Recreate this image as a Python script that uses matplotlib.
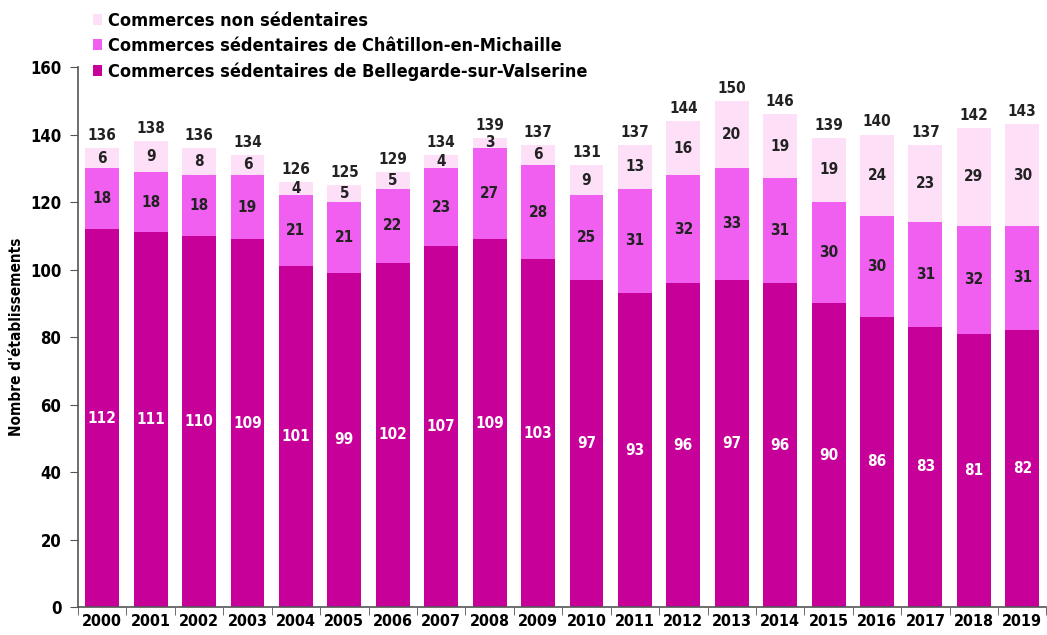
import matplotlib
matplotlib.use("Agg")
import matplotlib.pyplot as plt
import numpy as np

years = [str(y) for y in range(2000, 2020)]
bellegarde = [112, 111, 110, 109, 101, 99, 102, 107, 109, 103, 97, 93, 96, 97, 96, 90, 86, 83, 81, 82]
chatillon = [18, 18, 18, 19, 21, 21, 22, 23, 27, 28, 25, 31, 32, 33, 31, 30, 30, 31, 32, 31]
non_sed = [6, 9, 8, 6, 4, 5, 5, 4, 3, 6, 9, 13, 16, 20, 19, 19, 24, 23, 29, 30]

c_dark = "#c8009a"
c_mid = "#f05ff0"
c_light = "#fde0f8"

plt.rcParams["font.family"] = "DejaVu Sans"
plt.rcParams["font.stretch"] = "condensed"

fig = plt.figure(figsize=(10.47, 6.35), dpi=100)
ax = fig.add_axes([0.0745, 0.044, 0.925, 0.8505])

x = np.arange(len(years))
b = np.array(bellegarde)
c = np.array(chatillon)
n = np.array(non_sed)
w = 0.7

r1 = ax.bar(x, b, w, color=c_dark, label="Commerces sédentaires de Bellegarde-sur-Valserine")
r2 = ax.bar(x, c, w, bottom=b, color=c_mid, label="Commerces sédentaires de Châtillon-en-Michaille")
r3 = ax.bar(x, n, w, bottom=b + c, color=c_light, label="Commerces non sédentaires")

fs = 11
for i in range(len(x)):
    ax.text(x[i], b[i] / 2, str(b[i]), ha="center", va="center", color="white", fontsize=fs, fontweight="bold")
    ax.text(x[i], b[i] + c[i] / 2, str(c[i]), ha="center", va="center", color="#222222", fontsize=fs, fontweight="bold")
    ax.text(x[i], b[i] + c[i] + n[i] / 2, str(n[i]), ha="center", va="center", color="#222222", fontsize=fs, fontweight="bold")
    ax.text(x[i], b[i] + c[i] + n[i] + 1.5, str(b[i] + c[i] + n[i]), ha="center", va="bottom", color="#222222", fontsize=fs, fontweight="bold")

ax.set_xlim(-0.5, len(years) - 0.5)
ax.set_ylim(0, 160)
ax.set_yticks(range(0, 161, 20))
ax.set_xticks(x)
ax.set_xticklabels(years)
ax.set_xticks(np.arange(-0.5, len(years), 1), minor=True)
ax.tick_params(axis="x", which="major", length=0, pad=5)
ax.tick_params(axis="x", which="minor", length=6, direction="out", color="#555555")
ax.tick_params(axis="y", length=6, color="#555555", pad=6)
for lab in ax.get_xticklabels():
    lab.set_fontweight("bold")
    lab.set_fontsize(11.5)
for lab in ax.get_yticklabels():
    lab.set_fontweight("bold")
    lab.set_fontsize(12)
ax.set_ylabel("Nombre d'établissements", fontsize=11, fontweight="bold", labelpad=4)

for s in ["top", "right"]:
    ax.spines[s].set_visible(False)
for s in ["left", "bottom"]:
    ax.spines[s].set_color("#555555")
    ax.spines[s].set_linewidth(1.2)

handles = [r3, r2, r1]
ax.legend(handles=handles, loc="upper left", bbox_to_anchor=(0.015, 1.102), frameon=False,
          prop={"weight": "bold", "size": 13}, handlelength=0.55, handleheight=0.55,
          handletextpad=0.3, labelspacing=0.4, borderaxespad=0, borderpad=0)

fig.savefig("out.png", dpi=100)
